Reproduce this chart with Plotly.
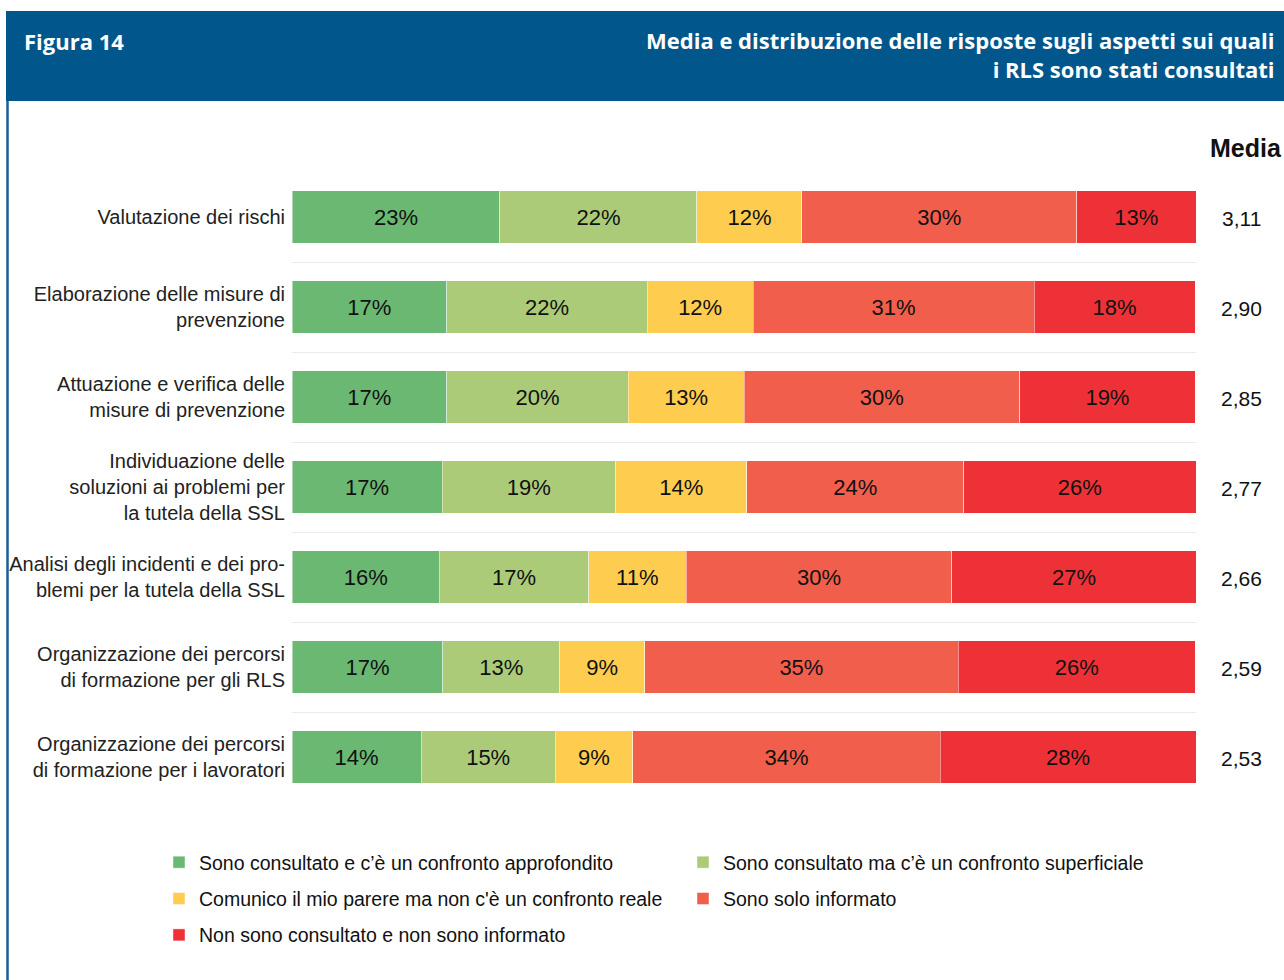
import plotly.graph_objects as go

W, H = 1284, 980
L, R, T, B = 292, 88, 172, 178
PW, PH = W - L - R, H - T - B

categories = [
    "Valutazione dei rischi",
    "Elaborazione delle misure di<br>prevenzione",
    "Attuazione e verifica delle<br>misure di prevenzione",
    "Individuazione delle<br>soluzioni ai problemi per<br>la tutela della SSL",
    "Analisi degli incidenti e dei pro-<br>blemi per la tutela della SSL",
    "Organizzazione dei percorsi<br>di formazione per gli RLS",
    "Organizzazione dei percorsi<br>di formazione per i lavoratori",
]

series_names = [
    "Sono consultato e c’è un confronto approfondito",
    "Sono consultato ma c’è un confronto superficiale",
    "Comunico il mio parere ma non c'è un confronto reale",
    "Sono solo informato",
    "Non sono consultato e non sono informato",
]
series_colors = ["#6BB872", "#ACCB79", "#FECD50", "#F15E4B", "#EE3136"]

# estimated values (%) per series, one per category
s_approfondito = [23.0, 17.1, 17.1, 16.6, 16.3, 16.7, 14.3]
s_superficiale = [21.8, 22.2, 20.1, 19.2, 16.5, 12.9, 14.8]
s_parere = [11.6, 11.7, 12.8, 14.5, 10.8, 9.4, 8.6]
s_informato = [30.4, 31.1, 30.5, 24.0, 29.4, 34.7, 34.0]
s_non = [13.2, 17.8, 19.4, 25.7, 27.0, 26.2, 28.3]
series_values = [s_approfondito, s_superficiale, s_parere, s_informato, s_non]

# labels as printed
l_approfondito = [23, 17, 17, 17, 16, 17, 14]
l_superficiale = [22, 22, 20, 19, 17, 13, 15]
l_parere = [12, 12, 13, 14, 11, 9, 9]
l_informato = [30, 31, 30, 24, 30, 35, 34]
l_non = [13, 18, 19, 26, 27, 26, 28]
series_labels = [l_approfondito, l_superficiale, l_parere, l_informato, l_non]

media = ["3,11", "2,90", "2,85", "2,77", "2,66", "2,59", "2,53"]


def px_x(p):
    return (p - L) / PW


def px_y(p):
    return (H - B - p) / PH


FONT = "Liberation Sans, Arial, sans-serif"
TFONT = "Open Sans, Noto Sans, sans-serif"

fig = go.Figure()
for i, (name, col, vals, labs) in enumerate(zip(series_names, series_colors, series_values, series_labels)):
    fig.add_trace(go.Bar(
        y=categories, x=vals, name=name, orientation="h", legendgroup=f"g{i}",
        marker=dict(color=col, line=dict(color="rgba(255,255,255,0.45)", width=1)),
        text=[f"{v}%" for v in labs], textposition="inside", insidetextanchor="middle",
        textangle=0, constraintext="none",
        textfont=dict(family=FONT, size=22, color="#111111"),
        hoverinfo="skip",
    ))

annotations = []
for cat, m in zip(categories, media):
    annotations.append(dict(x=px_x(1241), xref="paper", y=cat, yref="y", text=m,
                            showarrow=False, xanchor="center", yanchor="middle", yshift=-1,
                            font=dict(family=FONT, size=21, color="#111111")))
annotations.append(dict(x=px_x(1246), xref="paper", y=px_y(148), yref="paper", text="<b>Media</b>",
                        showarrow=False, xanchor="center", yanchor="middle",
                        font=dict(family=FONT, size=25, color="#111111")))
annotations.append(dict(x=px_x(22), xref="paper", y=px_y(41), yref="paper", text="<b>Figura 14</b>",
                        showarrow=False, xanchor="left", yanchor="middle",
                        font=dict(family=TFONT, size=22, color="white")))
annotations.append(dict(x=px_x(1277), xref="paper", y=px_y(54.5), yref="paper",
                        text="<b>Media e distribuzione delle risposte sugli aspetti sui quali<br>i RLS sono stati consultati</b>",
                        showarrow=False, xanchor="right", yanchor="middle", align="right",
                        font=dict(family=TFONT, size=22, color="white")))

shapes = [
    dict(type="rect", xref="paper", yref="paper", x0=px_x(6), x1=px_x(1290), y0=px_y(11), y1=px_y(101),
         fillcolor="#01568B", line=dict(width=0), layer="below"),
    dict(type="line", xref="paper", yref="paper", x0=px_x(7.5), x1=px_x(7.5), y0=px_y(101), y1=px_y(985),
         line=dict(color="#1A5E95", width=2.5)),
]

fig.update_layout(
    width=W, height=H, barmode="stack", bargap=0.42,
    margin=dict(l=L, r=R, t=T, b=B, autoexpand=False),
    paper_bgcolor="white", plot_bgcolor="white",
    font=dict(family=FONT, size=20, color="#222222"),
    xaxis=dict(range=[0, 100], visible=False, fixedrange=True),
    yaxis=dict(autorange="reversed", tickson="boundaries", showgrid=True, gridcolor="#EBEBEB",
               gridwidth=1, ticks="", zeroline=False, showline=False,
               tickfont=dict(family=FONT, size=20, color="#222222"), ticklabelstandoff=6),
    showlegend=True,
    legend=dict(orientation="h", x=px_x(159), xanchor="left", y=px_y(843), yanchor="top",
                entrywidth=479, entrywidthmode="pixels", traceorder="grouped", tracegroupgap=8,
                font=dict(family=FONT, size=19.5, color="#111111"), itemclick=False,
                itemdoubleclick=False),
    annotations=annotations, shapes=shapes,
)

fig.write_html("out.html", config={"displayModeBar": False},
               post_script="document.body.style.margin='0px';")
